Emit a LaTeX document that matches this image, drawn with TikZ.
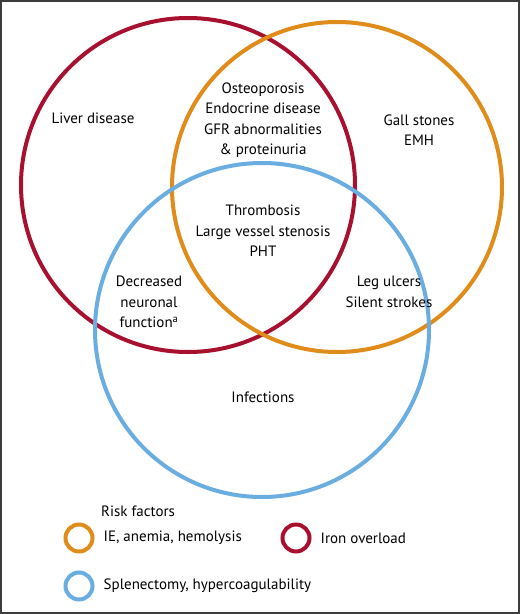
\documentclass[tikz,border=0pt]{standalone}
\usepackage{fontspec}
\setmainfont{PT Sans}
\usepackage{tikz}
\usetikzlibrary{positioning}
\definecolor{vnred}{RGB}{168,16,47}
\definecolor{vnorange}{RGB}{224,140,26}
\definecolor{vnblue}{RGB}{106,173,224}
\definecolor{vnframe}{RGB}{60,60,60}
\tikzstyle{ring} = [line width=4pt]
\tikzstyle{keyring} = [circle, line width=4pt, minimum size=27pt, inner sep=0pt]
\tikzstyle{label} = [font=\fontsize{15}{20.5}\selectfont, align=center, inner sep=0pt]
\tikzstyle{keytext} = [font=\fontsize{15}{18}\selectfont, anchor=west, inner sep=0pt]

\begin{document}
\begin{tikzpicture}[x=1pt,y=-1pt]
% frame
\useasboundingbox (0,0) rectangle (520,614);
\draw[vnframe, line width=2pt] (1,1) rectangle (519,613);

% Venn circles
\draw[ring, vnred] (188,185) circle (167);
\draw[ring, vnorange] (337,187) circle (165);
\draw[ring, vnblue] (262,330) circle (167);

% regions
\node[label] (liver) at (93,118) {Liver disease};
\node[label] (bone) at (263,120) {Osteoporosis\\Endocrine disease\\GFR abnormalities\\\& proteinuria};
\node[label] (gall) at (419,130) {Gall stones\\EMH};
\node[label] (core) at (263,231) {Thrombosis\\Large vessel stenosis\\PHT};
\node[label] (neuro) at (149,302) {Decreased\\neuronal\\function\textsuperscript{a}};
\node[label] (leg) at (389,292) {Leg ulcers\\Silent strokes};
\node[label] (infect) at (263,397) {Infections};

% legend
\node[keytext] (risk) at (101,511) {Risk factors};
\node[keyring, draw=vnorange] (kore) at (79,538) {};
\node[keytext, right=9pt of kore] (tore) {IE, anemia, hemolysis};
\node[keyring, draw=vnred] (kred) at (296,538) {};
\node[keytext, right=9pt of kred] (tred) {Iron overload};
\node[keyring, draw=vnblue] (kblue) at (79,586) {};
\node[keytext, right=9pt of kblue] (tblue) {Splenectomy, hypercoagulability};
\end{tikzpicture}
\end{document}
